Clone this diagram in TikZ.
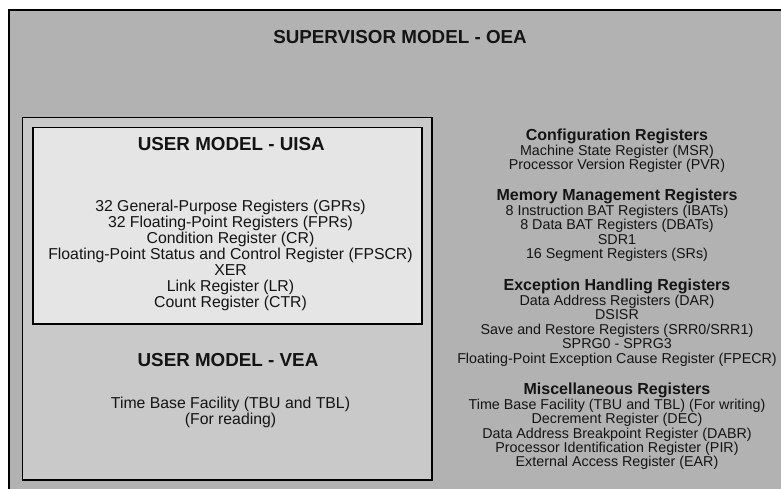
\documentclass[tikz,border=0pt]{standalone}
\usepackage{fontspec}
\setmainfont{Liberation Sans}
\definecolor{oeagray}{gray}{0.70}
\definecolor{veagray}{gray}{0.79}
\definecolor{uisagray}{gray}{0.90}
\definecolor{inkgray}{gray}{0.08}
\begin{document}
\begin{tikzpicture}[x=1pt,y=-1pt,
  boxline/.style={draw=black,line width=1.6pt},
  title/.style={anchor=base,inner sep=0pt,text=inkgray,font=\fontsize{18.8}{20}\selectfont\bfseries},
  head/.style={anchor=base,inner sep=0pt,text=inkgray,font=\fontsize{16}{17}\selectfont\bfseries},
  leftbody/.style={anchor=base,inner sep=0pt,text=inkgray,font=\fontsize{15.8}{16}\selectfont},
  rightbody/.style={anchor=base,inner sep=0pt,text=inkgray,font=\fontsize{14.3}{15}\selectfont}]
\useasboundingbox (0,0) rectangle (781,488);
\fill[white] (0,0) rectangle (781,488);

% supervisor level frame, running past the page edge
\begin{scope}
  \clip (0,0) rectangle (781,488);
  \draw[boxline,fill=oeagray] (9,10) rectangle (800,510);
\end{scope}
% user VEA and UISA frames
\draw[boxline,fill=veagray] (22.5,117.5) rectangle (432,480);
\draw[boxline,fill=uisagray] (33,127.5) rectangle (422,324);

% titles
\node[title] (oea) at (400,43) {SUPERVISOR MODEL - OEA};
\node[title] (uisa) at (231.3,150) {USER MODEL - UISA};
\node[title] (vea) at (228,366.7) {USER MODEL - VEA};

% UISA registers
\foreach \t [count=\i from 0] in {32 General-Purpose Registers (GPRs),
    32 Floating-Point Registers (FPRs), Condition Register (CR),
    Floating-Point Status and Control Register (FPSCR), XER,
    Link Register (LR), Count Register (CTR)}
  \node[leftbody] (uisa-\i) at (230.5,{211+16*\i}) {\t};

% VEA registers
\node[leftbody] (vea-0) at (230.5,408) {Time Base Facility (TBU and TBL)};
\node[leftbody] (vea-1) at (230.5,424) {(For reading)};

% OEA register groups
\node[head] (cfg) at (617,140.5) {Configuration Registers};
\foreach \t [count=\i from 0] in {Machine State Register (MSR),
    Processor Version Register (PVR)}
  \node[rightbody] (cfg-\i) at (617,{155+14.8*\i}) {\t};

\node[head] (mmu) at (617,200.7) {Memory Management Registers};
\foreach \t [count=\i from 0] in {8 Instruction BAT Registers (IBATs),
    8 Data BAT Registers (DBATs), SDR1, 16 Segment Registers (SRs)}
  \node[rightbody] (mmu-\i) at (617,{215.3+14.5*\i}) {\t};

\node[head] (exc) at (617,290) {Exception Handling Registers};
\foreach \t [count=\i from 0] in {Data Address Registers (DAR), DSISR,
    Save and Restore Registers (SRR0/SRR1), SPRG0 - SPRG3,
    Floating-Point Exception Cause Register (FPECR)}
  \node[rightbody] (exc-\i) at (617,{305+14.6*\i}) {\t};

\node[head] (misc) at (617,394) {Miscellaneous Registers};
\foreach \t [count=\i from 0] in {Time Base Facility (TBU and TBL) (For writing),
    Decrement Register (DEC), Data Address Breakpoint Register (DABR),
    Processor Identification Register (PIR), External Access Register (EAR)}
  \node[rightbody] (misc-\i) at (617,{409.5+14.3*\i}) {\t};
\end{tikzpicture}
\end{document}
